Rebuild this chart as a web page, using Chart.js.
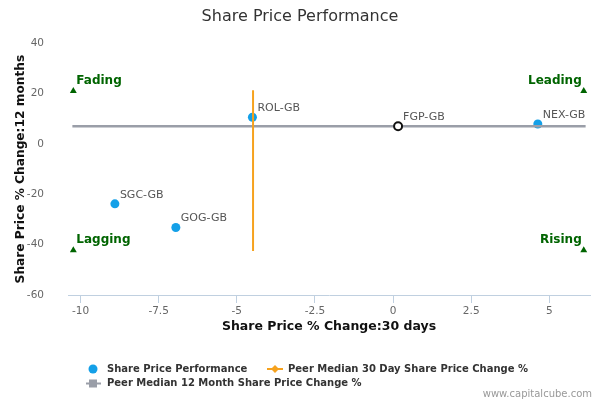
<!DOCTYPE html>
<html>
<head>
<meta charset="utf-8">
<script src="https://cdn.jsdelivr.net/npm/chart.js@4/dist/chart.umd.min.js"></script>
<style>
  html, body { margin: 0; padding: 0; background: #fff; }
  #wrap { width: 600px; height: 400px; }
</style>
</head>
<body>
<div id="wrap"><canvas id="chart" width="600" height="400"></canvas></div>
<script>
// peer companies: 30 day and 12 month share price change (%)
var companies = ['ROL-GB', 'SGC-GB', 'GOG-GB', 'NEX-GB'];
var change30d = [-4.50, -8.90, -6.95, 4.63];
var change12m = [10.6, -23.8, -33.2, 7.9];

// the company itself
var focusName = 'FGP-GB';
var focus30d = 0.16;
var focus12m = 7.0;

// peer medians and the extent of their lines
var peerMedian30d = -4.48;
var peerMedian12m = 6.98;
var median30dSpan = [21.3, -42.5];
var median12mSpan = [-10.26, 6.16];

// quadrant markers
var quadNames = ['Fading', 'Leading', 'Lagging', 'Rising'];
var quadX = [-10.23, 6.10, -10.23, 6.10];
var quadY = [21.0, 21.0, -42.2, -42.2];

var xTicks = [-10, -7.5, -5, -2.5, 0, 2.5, 5];
var yTicks = [-60, -40, -20, 0, 20, 40];

var BLUE = '#14a0e8';
var ORANGE = '#f6a21e';
var GREY = '#9a9ea8';
var GREEN = '#006400';

Chart.defaults.font.family = 'DejaVu Sans';

var peerPoints = companies.map(function (c, i) {
    return { x: change30d[i], y: change12m[i] };
});
var quadPoints = quadNames.map(function (q, i) {
    return { x: quadX[i], y: quadY[i] };
});

var labelPlugin = {
    id: 'pointLabels',
    afterDatasetsDraw: function (chart) {
        var ctx = chart.ctx;
        ctx.save();
        ctx.textBaseline = 'middle';

        // company labels
        ctx.font = '11px "DejaVu Sans"';
        ctx.fillStyle = '#555';
        ctx.textAlign = 'left';
        chart.getDatasetMeta(3).data.forEach(function (pt, i) {
            ctx.fillText(companies[i], pt.x + 5, pt.y - 9);
        });
        var f = chart.getDatasetMeta(0).data[0];
        ctx.fillText(focusName, f.x + 5, f.y - 9);

        // quadrant labels
        ctx.font = 'bold 12px "DejaVu Sans"';
        ctx.fillStyle = GREEN;
        chart.getDatasetMeta(4).data.forEach(function (pt, i) {
            if (quadX[i] > 0) {
                ctx.textAlign = 'right';
                ctx.fillText(quadNames[i], pt.x - 2, pt.y - 10);
            } else {
                ctx.textAlign = 'left';
                ctx.fillText(quadNames[i], pt.x + 3, pt.y - 10);
            }
        });
        ctx.restore();
    },
    afterDraw: function (chart) {
        var ctx = chart.ctx;
        ctx.save();
        ctx.textBaseline = 'middle';
        ctx.textAlign = 'left';
        ctx.font = 'bold 10px "DejaVu Sans"';

        // item 1
        ctx.fillStyle = BLUE;
        ctx.beginPath();
        ctx.arc(93, 369, 4.5, 0, Math.PI * 2);
        ctx.fill();
        ctx.fillStyle = '#333';
        ctx.fillText('Share Price Performance', 107, 369);

        // item 2
        ctx.strokeStyle = ORANGE;
        ctx.lineWidth = 2;
        ctx.beginPath();
        ctx.moveTo(267, 369);
        ctx.lineTo(283, 369);
        ctx.stroke();
        ctx.fillStyle = ORANGE;
        ctx.beginPath();
        ctx.moveTo(275, 365);
        ctx.lineTo(279, 369);
        ctx.lineTo(275, 373);
        ctx.lineTo(271, 369);
        ctx.closePath();
        ctx.fill();
        ctx.fillStyle = '#333';
        ctx.fillText('Peer Median 30 Day Share Price Change %', 288, 369);

        // item 3
        ctx.strokeStyle = GREY;
        ctx.beginPath();
        ctx.moveTo(86, 383.5);
        ctx.lineTo(101, 383.5);
        ctx.stroke();
        ctx.fillStyle = GREY;
        ctx.fillRect(89, 379.5, 8, 8);
        ctx.fillStyle = '#333';
        ctx.fillText('Peer Median 12 Month Share Price Change %', 107, 383.5);

        // credits
        ctx.font = '10px "DejaVu Sans"';
        ctx.fillStyle = '#999';
        ctx.textAlign = 'right';
        ctx.fillText('www.capitalcube.com', 592, 394);
        ctx.restore();
    }
};

var config = {
    type: 'scatter',
    data: {
        datasets: [{
            label: focusName,
            data: [{ x: focus30d, y: focus12m }],
            pointRadius: 4,
            pointBorderWidth: 2,
            borderColor: '#111',
            backgroundColor: '#fff'
        }, {
            label: 'Peer Median 30 Day Share Price Change %',
            data: [{ x: peerMedian30d, y: median30dSpan[0] }, { x: peerMedian30d, y: median30dSpan[1] }],
            showLine: true,
            borderColor: ORANGE,
            borderWidth: 2,
            pointRadius: 0
        }, {
            label: 'Peer Median 12 Month Share Price Change %',
            data: [{ x: median12mSpan[0], y: peerMedian12m }, { x: median12mSpan[1], y: peerMedian12m }],
            showLine: true,
            borderColor: GREY,
            borderWidth: 2.5,
            pointRadius: 0
        }, {
            label: 'Share Price Performance',
            data: peerPoints,
            pointRadius: 4.5,
            pointBorderWidth: 0,
            backgroundColor: BLUE,
            borderColor: BLUE
        }, {
            label: 'Quadrants',
            data: quadPoints,
            pointStyle: 'triangle',
            pointRadius: 4,
            pointBorderWidth: 0,
            backgroundColor: GREEN,
            borderColor: GREEN
        }]
    },
    options: {
        responsive: false,
        animation: false,
        layout: {
            padding: { left: 0, right: 0, top: 0, bottom: 65.5 }
        },
        plugins: {
            legend: { display: false },
            tooltip: { enabled: false },
            title: {
                display: true,
                text: 'Share Price Performance',
                color: '#333',
                font: { size: 16, weight: 'normal' },
                padding: { top: 7, bottom: 17 }
            }
        },
        scales: {
            x: {
                type: 'linear',
                min: -10.4,
                max: 6.3,
                afterBuildTicks: function (scale) {
                    scale.ticks = xTicks.map(function (v) { return { value: v }; });
                },
                afterFit: function (scale) { scale.height = 39.5; },
                grid: { drawOnChartArea: false, drawTicks: true, tickLength: 8, color: '#c0d0e0' },
                border: { display: true, color: '#c0d0e0' },
                ticks: { color: '#666', font: { size: 10.5 }, padding: 2, maxRotation: 0 },
                title: {
                    display: true,
                    text: 'Share Price % Change:30 days',
                    color: '#111',
                    font: { size: 12.5, weight: 'bold' },
                    padding: 0
                }
            },
            y: {
                type: 'linear',
                min: -60,
                max: 40,
                afterBuildTicks: function (scale) {
                    scale.ticks = yTicks.map(function (v) { return { value: v }; });
                },
                afterFit: function (scale) { scale.width = 68; },
                grid: { display: false },
                border: { display: false },
                ticks: { color: '#666', font: { size: 10.5 }, padding: 16 },
                title: {
                    display: true,
                    text: 'Share Price % Change:12 months',
                    color: '#111',
                    font: { size: 12.2, weight: 'bold' },
                    padding: { top: 14, bottom: 0 }
                }
            },
            // empty right-hand gutter so the title stays centred on the page
            yRight: {
                type: 'linear',
                position: 'right',
                min: -60,
                max: 40,
                afterFit: function (scale) { scale.width = 10; },
                grid: { display: false },
                border: { display: false },
                ticks: { display: false }
            }
        }
    },
    plugins: [labelPlugin]
};

var ctx = document.getElementById('chart');
window.myChart = new Chart(ctx, config);
</script>
</body>
</html>
